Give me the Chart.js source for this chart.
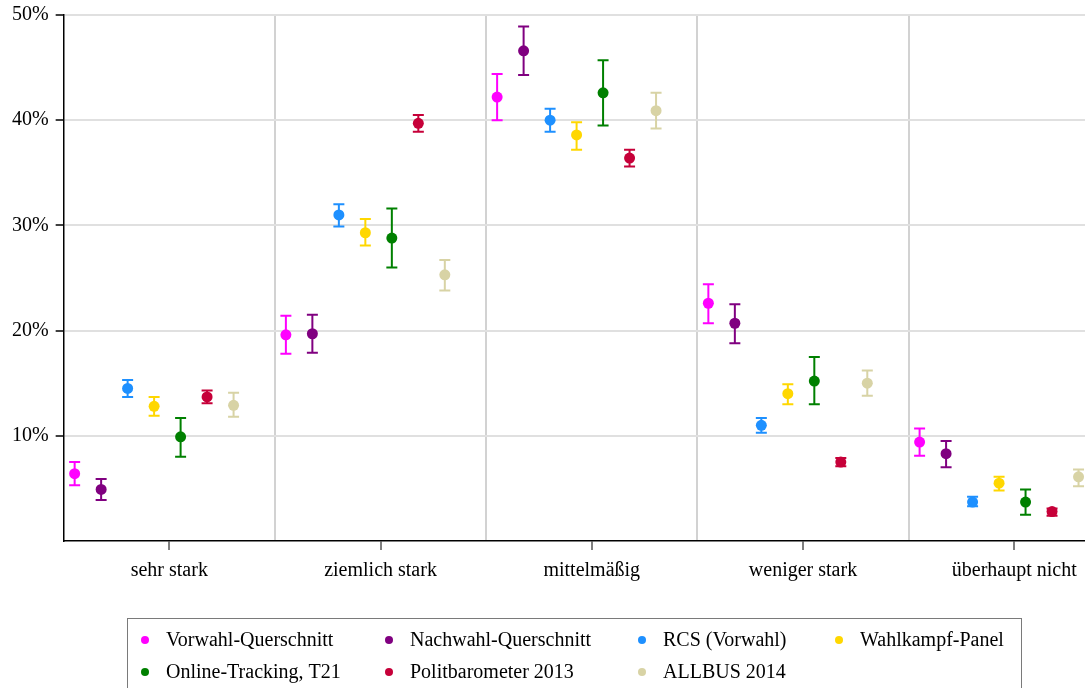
<!DOCTYPE html>
<html>
<head>
<meta charset="utf-8">
<script src="https://cdn.jsdelivr.net/npm/chart.js@4"></script>
<style>
  html, body { margin: 0; padding: 0; background: #fff; }
  #wrap { width: 1085px; height: 688px; }
</style>
</head>
<body>
<div id="wrap"><canvas id="chart"></canvas></div>
<script>
// Data
const categories = ['sehr stark', 'ziemlich stark', 'mittelmäßig', 'weniger stark', 'überhaupt nicht'];
const seriesNames = ['Vorwahl-Querschnitt', 'Nachwahl-Querschnitt', 'RCS (Vorwahl)', 'Wahlkampf-Panel',
                     'Online-Tracking, T21', 'Politbarometer 2013', 'ALLBUS 2014'];
const seriesColors = ['#ff00ff', '#800080', '#1e90ff', '#ffd700', '#008000', '#c60039', '#d8d3a5'];

// one row per series, one column per category (percent)
const means = [
    [6.4, 19.6, 42.2, 22.6, 9.4],
    [4.9, 19.7, 46.6, 20.7, 8.3],
    [14.5, 31.0, 40.0, 11.0, 3.7],
    [12.8, 29.3, 38.6, 14.0, 5.5],
    [9.9, 28.8, 42.6, 15.2, 3.7],
    [13.7, 39.7, 36.4, 7.5, 2.8],
    [12.9, 25.3, 40.9, 15.0, 6.1]
];
const lower = [
    [5.3, 17.8, 40.0, 20.7, 8.1],
    [3.9, 17.9, 44.3, 18.8, 7.0],
    [13.7, 29.9, 38.9, 10.3, 3.3],
    [11.9, 28.1, 37.2, 13.0, 4.8],
    [8.0, 26.0, 39.5, 13.0, 2.5],
    [13.1, 38.9, 35.6, 7.1, 2.4],
    [11.8, 23.8, 39.2, 13.8, 5.2]
];
const upper = [
    [7.5, 21.4, 44.4, 24.4, 10.7],
    [5.9, 21.5, 48.9, 22.5, 9.5],
    [15.3, 32.0, 41.1, 11.7, 4.2],
    [13.7, 30.6, 39.8, 14.9, 6.1],
    [11.7, 31.6, 45.7, 17.5, 4.9],
    [14.3, 40.5, 37.2, 7.9, 3.1],
    [14.1, 26.7, 42.6, 16.2, 6.8]
];
const yTicks = [0, 10, 20, 30, 40, 50];

// where the series sit inside each category band
const SLOT_START = 0.052;
const SLOT_STEP = 0.1254;
// the original plot is cut off at the right edge, part way into the last band
const X_MAX = 4.835;
const FONT = { family: "'Liberation Serif', 'Times New Roman', serif", size: 20 };

const datasets = seriesNames.map((name, s) => ({
    label: name,
    data: categories.map((c, i) => ({
        x: i + SLOT_START + s * SLOT_STEP,
        y: means[s][i],
        lo: lower[s][i],
        hi: upper[s][i]
    })),
    backgroundColor: seriesColors[s],
    borderColor: seriesColors[s],
    pointRadius: 5.5,
    pointBorderWidth: 0,
    showLine: false
}));

const xTickValues = [0];
categories.forEach((c, i) => {
    xTickValues.push(i + 0.5);
    if (i + 1 < X_MAX) xTickValues.push(i + 1);
});

const isWhole = v => Math.abs(v - Math.round(v)) < 1e-6;

// error bars drawn under the points
const errorBars = {
    id: 'errorBars',
    beforeDatasetsDraw(chart) {
        const ctx = chart.ctx;
        const y = chart.scales.y;
        ctx.save();
        ctx.lineWidth = 2;
        chart.data.datasets.forEach((ds, d) => {
            const meta = chart.getDatasetMeta(d);
            ctx.strokeStyle = ds.borderColor;
            meta.data.forEach((el, k) => {
                const p = ds.data[k];
                const top = y.getPixelForValue(p.hi);
                const bot = y.getPixelForValue(p.lo);
                ctx.beginPath();
                ctx.moveTo(el.x, top);
                ctx.lineTo(el.x, bot);
                ctx.moveTo(el.x - 5.5, top);
                ctx.lineTo(el.x + 5.5, top);
                ctx.moveTo(el.x - 5.5, bot);
                ctx.lineTo(el.x + 5.5, bot);
                ctx.stroke();
            });
        });
        ctx.restore();
    }
};

// boxed legend in a four column grid
const boxLegend = {
    id: 'boxLegend',
    afterDraw(chart) {
        const ctx = chart.ctx;
        const colX = [166, 410, 663, 860];
        const rowY = [640, 672];
        ctx.save();
        ctx.strokeStyle = '#7a7a7a';
        ctx.lineWidth = 1;
        ctx.strokeRect(127.5, 618.5, 894, 90);
        ctx.font = FONT.size + 'px ' + FONT.family;
        ctx.textBaseline = 'middle';
        chart.data.datasets.forEach((ds, i) => {
            const cx = colX[i % 4];
            const cy = rowY[Math.floor(i / 4)];
            ctx.fillStyle = ds.backgroundColor;
            ctx.beginPath();
            ctx.arc(cx - 21, cy, 4, 0, Math.PI * 2);
            ctx.fill();
            ctx.fillStyle = '#000';
            ctx.fillText(ds.label, cx, cy + 1);
        });
        ctx.restore();
    }
};

new Chart(document.getElementById('chart'), {
    type: 'scatter',
    data: { datasets },
    options: {
        responsive: true,
        maintainAspectRatio: false,
        animation: false,
        layout: { autoPadding: false, padding: { top: 0, left: 5, right: 0, bottom: 96 } },
        plugins: {
            legend: { display: false },
            tooltip: { enabled: false }
        },
        scales: {
            x: {
                type: 'linear',
                min: 0,
                max: X_MAX,
                afterBuildTicks: scale => {
                    scale.ticks = xTickValues.map(v => ({ value: v }));
                },
                afterFit: scale => {
                    scale.paddingRight = 0;
                },
                ticks: {
                    autoSkip: false,
                    maxRotation: 0,
                    padding: 9,
                    color: '#000',
                    font: FONT,
                    callback: v => isWhole(v) ? '' : categories[Math.floor(v)]
                },
                grid: {
                    lineWidth: 2,
                    tickWidth: 1,
                    tickLength: 9,
                    color: c => (c.tick && isWhole(c.tick.value) && c.tick.value > 0)
                        ? '#d2d2d2' : 'rgba(0,0,0,0)',
                    tickColor: c => (c.tick && !isWhole(c.tick.value)) ? '#000' : 'rgba(0,0,0,0)'
                },
                border: { color: '#000', width: 1.5 }
            },
            y: {
                min: 0,
                max: 50,
                afterBuildTicks: scale => {
                    scale.ticks = yTicks.map(v => ({ value: v }));
                },
                afterFit: scale => {
                    scale.paddingTop = 15;
                },
                ticks: {
                    padding: 7,
                    color: '#000',
                    font: FONT,
                    callback: v => v === 0 ? '' : v + '%'
                },
                grid: {
                    lineWidth: 2,
                    tickWidth: 1.5,
                    tickLength: 8,
                    color: c => (c.tick && c.tick.value > 0) ? '#e0e0e0' : 'rgba(0,0,0,0)',
                    tickColor: c => (c.tick && c.tick.value > 0) ? '#000' : 'rgba(0,0,0,0)'
                },
                border: { color: '#000', width: 1.5 }
            }
        }
    },
    plugins: [errorBars, boxLegend]
});
</script>
</body>
</html>
